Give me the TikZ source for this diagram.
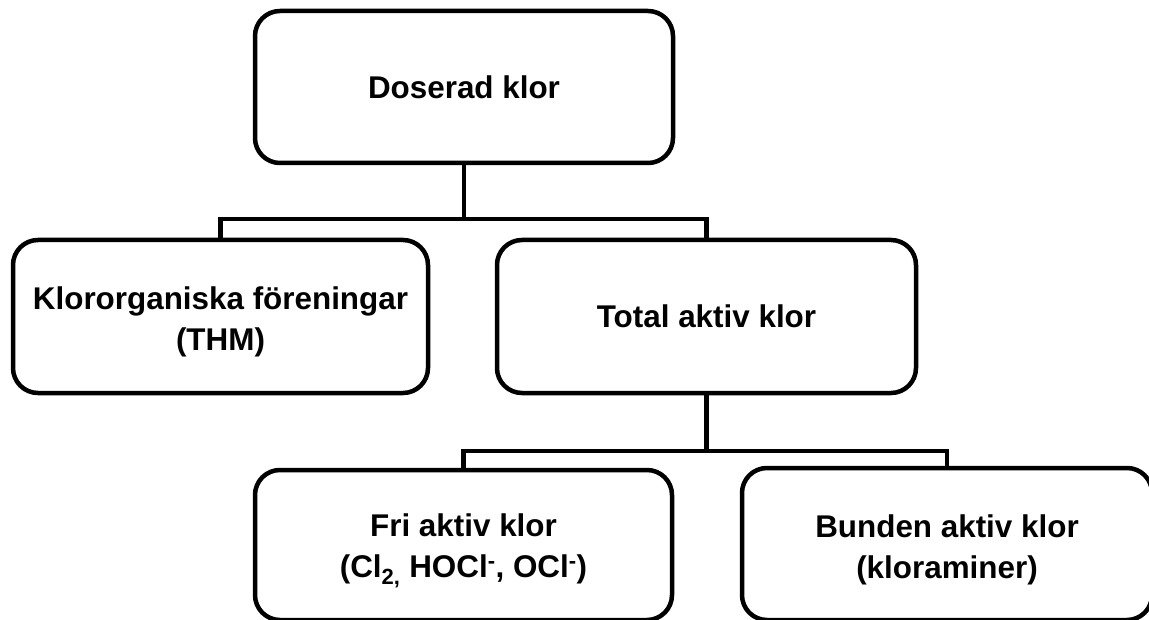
\documentclass[tikz,border=0pt]{standalone}
\usepackage{fontspec}
\setmainfont{Liberation Sans}
\begin{document}
\begin{tikzpicture}[x=1pt,y=-1pt,
  box/.style={draw=black, line width=4.5pt, rounded corners=25pt, fill=white,
    align=center, inner sep=0pt,
    font=\fontsize{31.4}{41}\selectfont\bfseries},
  conn/.style={draw=black, line width=4.5pt}]
\useasboundingbox (0,0) rectangle (1149,620);
\node[box, minimum width=418pt, minimum height=152pt] (top) at (464,87) {Doserad klor};
\node[box, minimum width=415pt, minimum height=153pt] (left) at (220.5,316.5) {\rule{0pt}{33pt}Klororganiska föreningar\\(THM)};
\node[box, minimum width=419pt, minimum height=153pt] (total) at (706.5,316.5) {Total aktiv klor};
\node[box, minimum width=417pt, minimum height=150pt] (fri) at (463.5,545) {\rule{0pt}{35pt}Fri aktiv klor\\(Cl\textsubscript{2,} HOCl\textsuperscript{-}, OCl\textsuperscript{-})};
\node[box, minimum width=410pt, minimum height=152pt] (bunden) at (947,544) {\rule{0pt}{35pt}Bunden aktiv klor\\(kloraminer)};
\coordinate (j1) at (464,219);
\coordinate (j2) at (706.5,451);
\draw[conn] (top.south) -- (j1);
\draw[conn] (left.north) |- (j1) -| (total.north);
\draw[conn] (total.south) -- (j2);
\draw[conn] (fri.north) |- (j2) -| (bunden.north);
\end{tikzpicture}
\end{document}
